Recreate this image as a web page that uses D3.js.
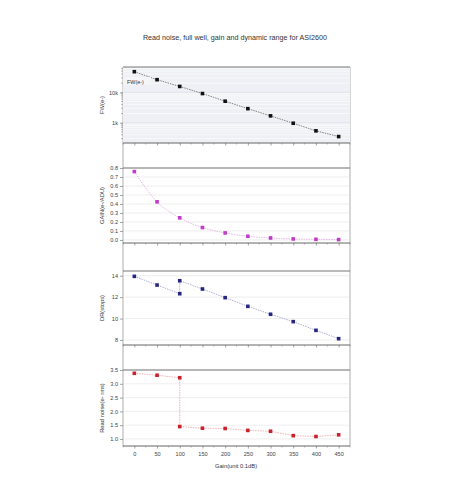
<!DOCTYPE html>
<html><head><meta charset="utf-8">
<script src="https://cdn.jsdelivr.net/npm/d3@7"></script>
<style>body{margin:0;background:#fff}text{font-family:Arial,"Liberation Sans",sans-serif}</style>
</head><body><svg id="c" width="450" height="503"></svg>
<script>
const title = "Read noise, full well, gain and dynamic range for ASI2600";
const xTicks = [0,50,100,150,200,250,300,350,400,450];
const gains = [0,50,100,150,200,250,300,350,400,450];
const fullWell = [47600,26000,15600,9100,5100,2900,1680,960,540,350];
const gainEADU = [0.76,0.424,0.246,0.138,0.078,0.041,0.022,0.011,0.007,0.004];
const drGains = [0,50,100,100,150,200,250,300,350,400,450];
const drStops = [13.94,13.13,12.32,13.53,12.76,11.95,11.14,10.4,9.71,8.9,8.12];
const rnGains = [0,50,100,100,150,200,250,300,350,400,450];
const readNoise = [3.38,3.31,3.22,1.45,1.39,1.38,1.31,1.28,1.12,1.09,1.15];
const fwTicks = [1000,10000];
const fwTickLabels = ["1k","10k"];

const svg = d3.select("#c");
const x = d3.scaleLinear().domain([-25,475]).range([123,350]);
const L = 123, R = 350;

svg.append("text").attr("x",235).attr("y",40).attr("text-anchor","middle")
  .attr("font-size",7.2).attr("fill","#333").text(title);

const panels = [
  {top:67,bottom:143,y:d3.scaleLog().domain([215,68000]),xs:gains,ys:fullWell,color:"#111",line:"#666",
   ticks:fwTicks,fmt:(d,i)=>fwTickLabels[i],label:"FW(e-)",curve:d3.curveLinear,bands:true},
  {top:168,bottom:243,y:d3.scaleLinear().domain([-0.034,0.8]),xs:gains,ys:gainEADU,color:"#c03cc8",line:"#e0a8e4",
   ticks:d3.range(0,0.81,0.1),fmt:d3.format(".1f"),label:"GAIN(e-/ADU)",curve:d3.curveMonotoneX},
  {top:271,bottom:345,y:d3.scaleLinear().domain([7.53,14.44]),xs:drGains,ys:drStops,color:"#262680",line:"#9a9ad0",
   ticks:[8,10,12,14],fmt:d3.format("d"),label:"DR(stops)",curve:d3.curveLinear},
  {top:370,bottom:446,y:d3.scaleLinear().domain([0.745,3.5]),xs:rnGains,ys:readNoise,color:"#c8202c",line:"#e8a0a4",
   ticks:[1,1.5,2,2.5,3,3.5],fmt:d3.format(".1f"),label:"Read noise(e- rms)",curve:d3.curveLinear}
];

svg.append("line").attr("x1",L).attr("x2",L).attr("y1",67).attr("y2",446).attr("stroke","#999").attr("stroke-width",0.8);
svg.append("line").attr("x1",R).attr("x2",R).attr("y1",67).attr("y2",446).attr("stroke","#999").attr("stroke-width",0.8);

panels.forEach((p,pi)=>{
  p.y.range([p.bottom,p.top]);
  const g = svg.append("g");
  if(p.bands){
    g.append("rect").attr("x",L).attr("y",p.top).attr("width",R-L).attr("height",p.bottom-p.top).attr("fill","#eef0f5");
    const minor = [];
    [100,1000,10000].forEach(dec=>{for(let k=2;k<=9;k++){const v=dec*k; if(v>215&&v<68000) minor.push(v);} });
    g.selectAll(".mg").data(minor).join("line").attr("x1",L).attr("x2",R)
      .attr("y1",d=>p.y(d)).attr("y2",d=>p.y(d)).attr("stroke","#fff").attr("stroke-width",0.6);
    g.selectAll(".mt").data(minor).join("line").attr("x1",L-2).attr("x2",L)
      .attr("y1",d=>p.y(d)).attr("y2",d=>p.y(d)).attr("stroke","#777").attr("stroke-width",0.5);
  }
  g.selectAll(".gl").data(p.ticks).join("line").attr("x1",L).attr("x2",R)
    .attr("y1",d=>p.y(d)).attr("y2",d=>p.y(d)).attr("stroke",p.bands?"#d8dbe4":"#e2e2e2").attr("stroke-width",0.6);
  g.append("line").attr("x1",L).attr("x2",R).attr("y1",p.top).attr("y2",p.top).attr("stroke","#666").attr("stroke-width",0.9);
  const ya = d3.axisLeft(p.y).tickValues(p.ticks).tickFormat(p.fmt).tickSize(3).tickPadding(2);
  const yg = g.append("g").attr("transform",`translate(${L},0)`).call(ya);
  yg.select(".domain").remove();
  yg.selectAll("line").attr("stroke","#666").attr("stroke-width",0.6);
  yg.selectAll("text").attr("font-size",5.6).attr("fill","#444").attr("font-family","Arial");
  const xa = d3.axisBottom(x).tickValues(xTicks).tickSize(2.5).tickPadding(4)
    .tickFormat(pi===3?d3.format("d"):"");
  const xg = g.append("g").attr("transform",`translate(0,${p.bottom})`).call(xa);
  xg.select(".domain").attr("d",`M${L},0H${R}`).attr("stroke","#555").attr("stroke-width",0.9);
  xg.selectAll("line").attr("stroke","#666").attr("stroke-width",0.6);
  xg.selectAll("text").attr("font-size",5.6).attr("fill","#444").attr("font-family","Arial");
  g.selectAll(".xm").data(d3.range(-25,476,25).filter(d=>d%50!==0)).join("line")
    .attr("x1",d=>x(d)).attr("x2",d=>x(d)).attr("y1",p.bottom).attr("y2",p.bottom+1.5)
    .attr("stroke","#777").attr("stroke-width",0.5);
  g.append("text").attr("transform",`translate(104,${(p.top+p.bottom)/2}) rotate(-90)`)
    .attr("text-anchor","middle").attr("font-size",5.8).attr("fill","#333").text(p.label);
  const pts = p.xs.map((v,i)=>[v,p.ys[i]]);
  g.append("path").datum(pts).attr("fill","none").attr("stroke",p.line).attr("stroke-width",0.8)
    .attr("stroke-dasharray","1.5,1")
    .attr("d",d3.line().x(d=>x(d[0])).y(d=>p.y(d[1])).curve(p.curve));
  g.selectAll(".pt").data(pts).join("rect")
    .attr("x",d=>x(d[0])-1.8).attr("y",d=>p.y(d[1])-1.8).attr("width",3.6).attr("height",3.6)
    .attr("fill",p.color);
});

svg.append("rect").attr("x",125).attr("y",77).attr("width",26).attr("height",8).attr("fill","#f4f5f8");
svg.append("text").attr("x",127).attr("y",83.5).attr("font-size",5.4).attr("fill","#333").text("FW(e-)");

svg.append("text").attr("x",236).attr("y",468).attr("text-anchor","middle")
  .attr("font-size",5.8).attr("fill","#333").text("Gain(unit 0.1dB)");
</script></body></html>
